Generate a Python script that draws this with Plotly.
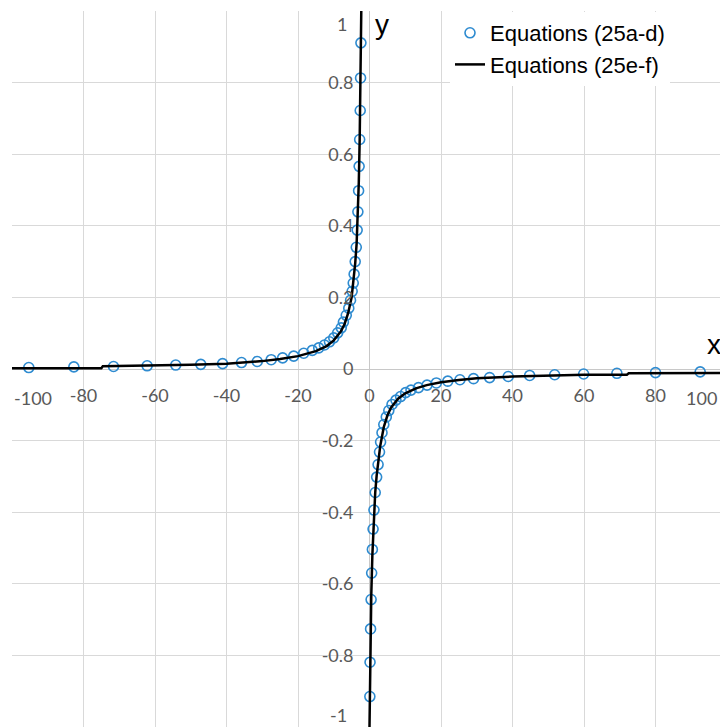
import plotly.graph_objects as go

# ---- data ----
# Equations (25a-d): markers, left branch (x<0) and right branch (x>0)
mark_left_x = [-95.3, -82.7, -71.6, -62.2, -54.2, -47.2, -41.1, -35.8, -31.4, -27.5,
               -24.3, -21.2, -18.4, -16.0, -14.2, -12.6, -11.2, -10.0, -8.9, -7.9,
               -7.3, -6.5, -5.8, -5.3, -4.85, -4.55, -4.3, -4.0, -3.7, -3.45,
               -3.25, -3.05, -2.9, -2.75, -2.6, -2.5, -2.4]
mark_left_y = [0.004, 0.006, 0.007, 0.009, 0.011, 0.013, 0.015, 0.018, 0.021, 0.026,
               0.031, 0.036, 0.044, 0.052, 0.059, 0.067, 0.076, 0.087, 0.101, 0.115,
               0.131, 0.150, 0.170, 0.192, 0.217, 0.240, 0.265, 0.300, 0.340, 0.388,
               0.439, 0.498, 0.566, 0.641, 0.722, 0.813, 0.911]
mark_right_x = [0.1, 0.15, 0.3, 0.45, 0.6, 0.8, 1.0, 1.25, 1.6, 2.0,
                2.4, 2.8, 3.1, 3.5, 4.0, 4.7, 5.4, 6.3, 7.4, 8.7,
                10.1, 11.6, 13.7, 16.1, 18.7, 21.9, 25.3, 29.1, 33.6, 38.8,
                44.8, 51.8, 59.9, 69.2, 80.0, 92.5]
mark_right_y = [-0.915, -0.819, -0.726, -0.644, -0.570, -0.504, -0.447, -0.394, -0.345, -0.302,
                -0.267, -0.232, -0.204, -0.178, -0.155, -0.134, -0.116, -0.099, -0.087, -0.077,
                -0.066, -0.059, -0.052, -0.045, -0.039, -0.034, -0.030, -0.027, -0.024, -0.021,
                -0.018, -0.016, -0.014, -0.012, -0.010, -0.008]

# Equations (25e-f): solid line, two branches
line_left_x = [-100, -75, -74.6, -60, -50, -40, -30, -25, -20, -15, -12, -10, -8, -7, -6,
               -5, -4.5, -4, -3.6, -3.3, -3.0, -2.75, -2.55, -2.4, -2.3]
line_left_y = [0.002, 0.002, 0.008, 0.010, 0.012, 0.015, 0.022, 0.028, 0.036, 0.050, 0.064,
               0.080, 0.105, 0.125, 0.155, 0.200, 0.240, 0.295, 0.350, 0.420, 0.520, 0.640,
               0.780, 0.900, 1.000]
line_right_x = [0.0, 0.1, 0.25, 0.5, 0.8, 1.2, 1.6, 2.0, 2.5, 3.0, 4.0, 5.0, 6.0, 8.0, 10,
                13, 16, 20, 25, 30, 40, 50, 60, 72, 72.5, 100]
line_right_y = [-1.0, -0.9, -0.77, -0.63, -0.52, -0.41, -0.345, -0.298, -0.255, -0.215,
                -0.162, -0.130, -0.108, -0.083, -0.068, -0.054, -0.045, -0.037, -0.031,
                -0.026, -0.021, -0.018, -0.016, -0.016, -0.012, -0.011]

x_ticks = [-100, -80, -60, -40, -20, 0, 20, 40, 60, 80, 100]
y_ticks = [-1, -0.8, -0.6, -0.4, -0.2, 0, 0.2, 0.4, 0.6, 0.8, 1]
series_names = ["Equations (25a-d)", "Equations (25e-f)"]
axis_titles = ["x", "y"]

# ---- layout geometry ----
W, H = 720, 727
ML, MR, MT, MB = 12, 0, 11, 0
PW, PH = W - ML - MR, H - MT - MB
X0_PX = 369.5  # pixel of x=0


def px_x(px):
    return (px - ML) / PW


def px_y(py):
    return (H - MB - py) / PH


def fmt(v):
    return "%g" % v


x_text = [fmt(v) if v not in (x_ticks[0], x_ticks[-1]) else "" for v in x_ticks]
y_text = [fmt(v) if v not in (y_ticks[0], y_ticks[-1]) else "" for v in y_ticks]

TICK_FONT = dict(family="Lato", size=18, color="#595959")
GRID = "#D9D9D9"

fig = go.Figure()
fig.add_trace(go.Scatter(
    x=mark_left_x + [None] + mark_right_x,
    y=mark_left_y + [None] + mark_right_y,
    mode="markers", name=series_names[0],
    marker=dict(symbol="circle-open", size=10, color="#2E8BD0", line=dict(width=1.6, color="#2E8BD0")),
))
fig.add_trace(go.Scatter(
    x=line_left_x + [None] + line_right_x,
    y=line_left_y + [None] + line_right_y,
    mode="lines", name=series_names[1],
    line=dict(color="black", width=2.5),
))

x_range = [-100, -100 + PW / ((X0_PX - ML) / 100)]

fig.update_layout(
    width=W, height=H,
    margin=dict(l=ML, r=MR, t=MT, b=MB, pad=0),
    paper_bgcolor="white", plot_bgcolor="white",
    showlegend=True,
    legend=dict(x=px_x(450), y=px_y(12), xanchor="left", yanchor="top",
                bgcolor="white", borderwidth=0, itemwidth=30,
                font=dict(family="Liberation Sans", size=22, color="black"),
                tracegroupgap=0),
    xaxis=dict(range=x_range, tickmode="array", tickvals=x_ticks, ticktext=x_text,
               showgrid=True, gridcolor=GRID, gridwidth=1,
               zeroline=True, zerolinecolor="#C8C8C8", zerolinewidth=1,
               showline=False, ticks="", anchor="free", position=0.5,
               ticklabelstandoff=14, tickfont=TICK_FONT, automargin=False),
    yaxis=dict(range=[-1, 1], tickmode="array", tickvals=y_ticks, ticktext=y_text,
               showgrid=True, gridcolor=GRID, gridwidth=1,
               zeroline=True, zerolinecolor="#C8C8C8", zerolinewidth=1,
               showline=False, ticks="", anchor="free", position=px_x(X0_PX),
               ticklabelstandoff=16, tickfont=TICK_FONT, automargin=False),
)

ann = [
    dict(text=fmt(x_ticks[0]), x=px_x(12), y=px_y(398), xanchor="left", yanchor="middle"),
    dict(text=fmt(x_ticks[-1]), x=px_x(719), y=px_y(398), xanchor="right", yanchor="middle"),
    dict(text=fmt(y_ticks[-1]), x=px_x(349), y=px_y(24), xanchor="right", yanchor="middle"),
    dict(text=fmt(y_ticks[0]), x=px_x(349), y=px_y(715), xanchor="right", yanchor="middle"),
]
for a in ann:
    fig.add_annotation(xref="paper", yref="paper", showarrow=False, font=TICK_FONT, **a)

title_font = dict(family="Liberation Sans", size=28, color="black")
fig.add_annotation(xref="paper", yref="paper", showarrow=False, font=title_font,
                   text=axis_titles[0], x=px_x(705), y=px_y(344), xanchor="left", yanchor="middle")
fig.add_annotation(xref="paper", yref="paper", showarrow=False, font=title_font,
                   text=axis_titles[1], x=px_x(373), y=px_y(25), xanchor="left", yanchor="middle")

fig.write_html("out.html")
